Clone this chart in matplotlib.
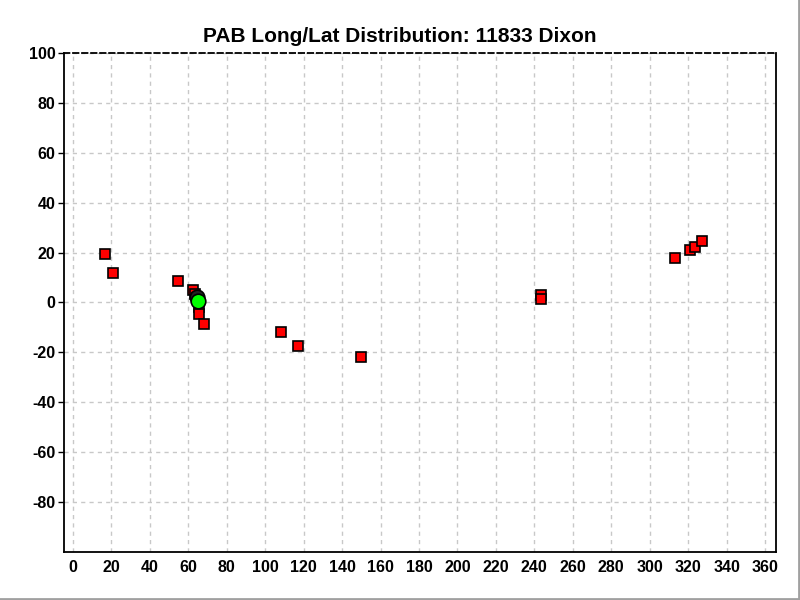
import matplotlib
matplotlib.use("Agg")
import matplotlib.pyplot as plt
from matplotlib.lines import Line2D

plt.rcParams['font.family'] = ['Liberation Sans', 'DejaVu Sans']

# red squares (longitude, latitude)
sq_lon = [16.6, 20.8, 54.6, 62.4, 63.4, 64.5, 65.6, 65.6, 68.2,
          108.2, 117.1, 149.8, 243.5, 243.5,
          313.2, 321.0, 323.6, 327.3]
sq_lat = [19.3, 12.0, 8.8, 5.2, 3.6, 1.6, -2.0, -4.8, -8.8,
          -12.0, -17.3, -21.7, 3.2, 1.2,
          17.7, 20.9, 22.1, 24.5]

# dark marker and green marker
dark_lon, dark_lat = [64.5], [2.4]
green_lon, green_lat = [65.0], [0.6]

xticks = list(range(0, 361, 20))
yticks = list(range(-80, 101, 20))

fig = plt.figure(figsize=(8, 6), dpi=100)
ax = fig.add_axes([0.08, 0.08, 0.89, 0.8317])

ax.plot(sq_lon, sq_lat, 's', ms=7.3, mfc='#ff0000', mec='black', mew=1.2,
        linestyle='none', zorder=3)
ax.plot(dark_lon, dark_lat, 'o', ms=10.5, mfc='#222222', mec='black', mew=1.2,
        linestyle='none', zorder=4)
ax.plot(green_lon, green_lat, 'o', ms=10.5, mfc='#00ff00', mec='black', mew=1.2,
        linestyle='none', zorder=5)

ax.set_xlim(-4.7, 365.7)
ax.set_ylim(-100, 100)
ax.set_xticks(xticks)
ax.set_yticks(yticks)
ax.set_yticklabels([str(v) for v in yticks])
ax.grid(True, color='#c8c8c8', linestyle=(0, (3, 3)), linewidth=1)
ax.set_axisbelow(True)

for lab in ax.get_xticklabels() + ax.get_yticklabels():
    lab.set_fontweight('bold')
    lab.set_fontsize(11.5)
ax.tick_params(axis='x', length=0, pad=6)
ax.tick_params(axis='y', length=4, width=1, pad=2, direction='out')

ax.spines['top'].set_linestyle((0, (3, 2)))
for s in ax.spines.values():
    s.set_color('black')
    s.set_linewidth(1.3)

fig.text(0.5, 0.94, 'PAB Long/Lat Distribution: 11833 Dixon',
         ha='center', va='center', fontsize=15, fontweight='bold')

fig.add_artist(Line2D([0.999, 0.999], [0, 1], color='#a0a0a0', lw=2,
                      transform=fig.transFigure))
fig.add_artist(Line2D([0, 1], [0.002, 0.002], color='#a0a0a0', lw=2,
                      transform=fig.transFigure))

fig.savefig('out.png', dpi=100)
